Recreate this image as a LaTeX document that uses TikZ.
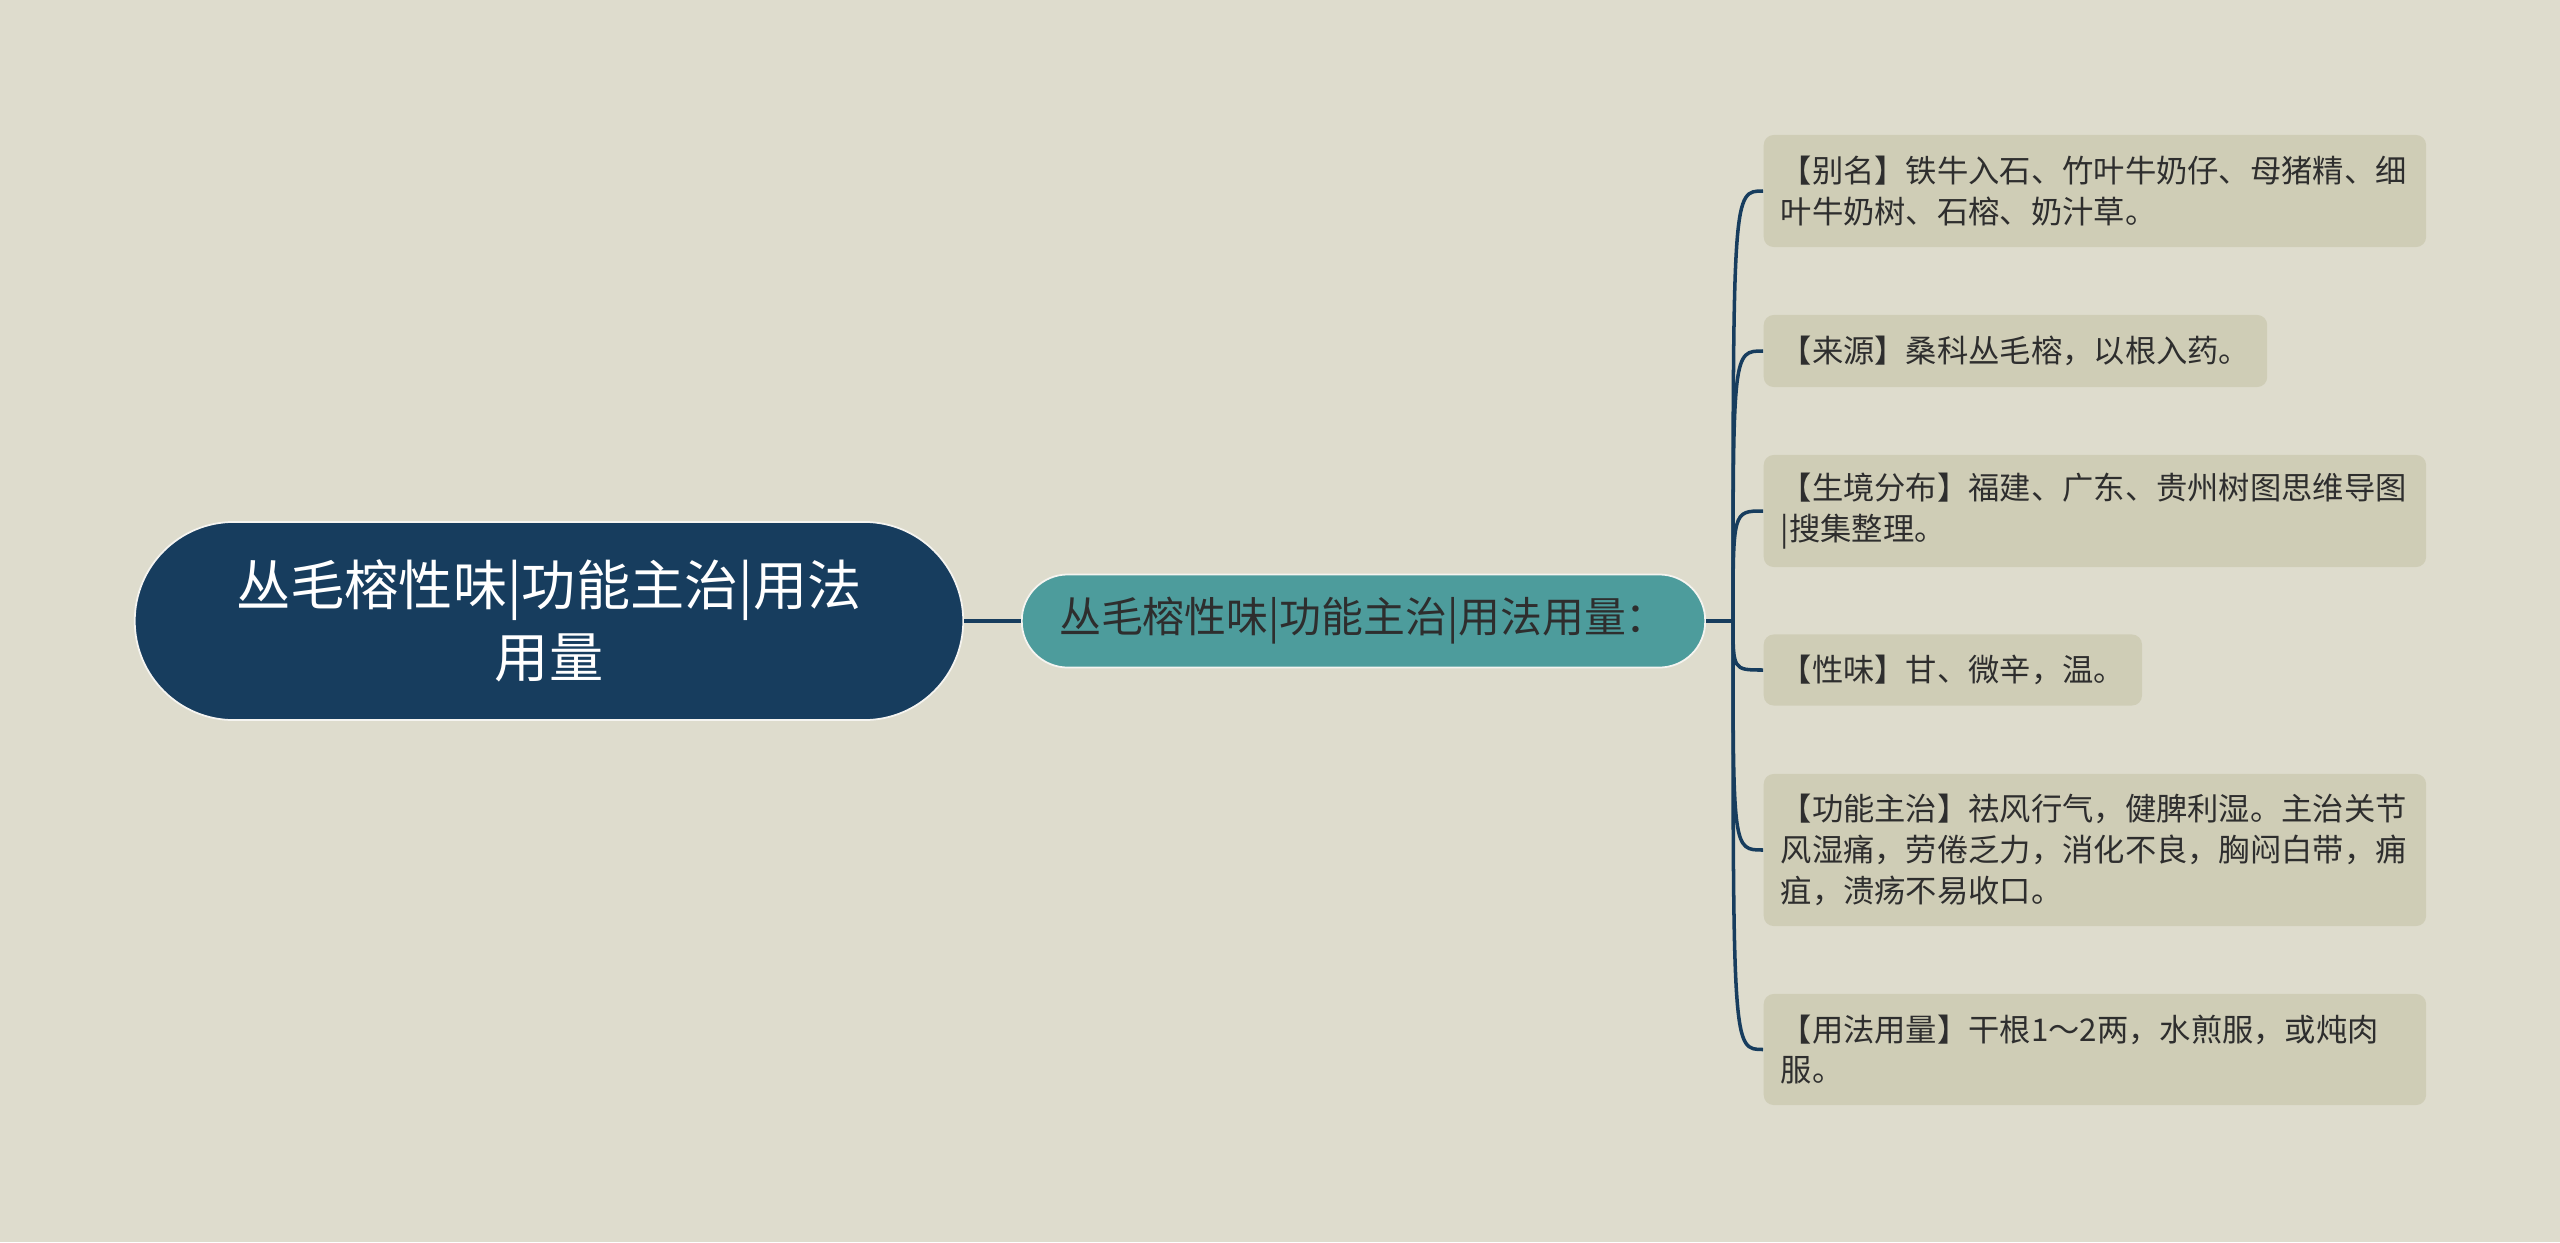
\documentclass[tikz,border=0pt]{standalone}
\usepackage{fontspec}
\setmainfont{Noto Sans CJK SC}
\usepackage{xcolor}

\definecolor{bgcol}{HTML}{DEDCCD}
\definecolor{rootcol}{HTML}{173D5E}
\definecolor{midcol}{HTML}{4D9C9C}
\definecolor{leafcol}{HTML}{CFCDB6}
\definecolor{inkcol}{HTML}{2E2E2E}

\begin{document}
\begin{tikzpicture}[x=0.01cm,y=-0.01cm,
  rootbox/.style={fill=rootcol,draw=white!70!bgcol,line width=0.5pt,text=white,align=center,
    minimum width=8.28cm,minimum height=1.98cm,rounded corners=0.99cm,
    font=\fontsize{15.4pt}{20.5pt}\selectfont},
  midbox/.style={fill=midcol,draw=white!70!bgcol,line width=0.5pt,text=inkcol,
    minimum width=6.83cm,minimum height=0.93cm,rounded corners=0.46cm,
    font=\fontsize{11.9pt}{14pt}\selectfont},
  leaf/.style={fill=leafcol,text=inkcol,align=left,anchor=west,rounded corners=0.1cm,
    inner xsep=0.17cm,inner ysep=0pt,font=\fontsize{8.9pt}{11.65pt}\selectfont},
  leafwide/.style={leaf,text width=6.28cm},
  link/.style={draw=rootcol,line width=1.2pt},
  twig/.style={draw=rootcol,line width=1pt}]
\fill[bgcol] (0,0) rectangle (2560,1242);
\useasboundingbox (0,0) rectangle (2560,1242);

\node[rootbox] (root) at (549,621) {丛毛榕性味|功能主治|用法\\用量};
\node[midbox] (mid) at (1363.5,621) {丛毛榕性味|功能主治|用法用量：};
\coordinate (J) at (1733,621);

\node[leafwide,minimum height=1.12cm] (l1) at (1763,191) {【别名】铁牛入石、竹叶牛奶仔、母猪精、细\\叶牛奶树、石榕、奶汁草。};
\node[leaf,minimum height=0.72cm] (l2) at (1763,351) {【来源】桑科丛毛榕，以根入药。};
\node[leafwide,minimum height=1.12cm] (l3) at (1763,511) {【生境分布】福建、广东、贵州树图思维导图\\|搜集整理。};
\node[leaf,minimum height=0.71cm] (l4) at (1763,670) {【性味】甘、微辛，温。};
\node[leafwide,minimum height=1.52cm] (l5) at (1763,850) {【功能主治】祛风行气，健脾利湿。主治关节\\风湿痛，劳倦乏力，消化不良，胸闷白带，痈\\疽，溃疡不易收口。};
\node[leafwide,minimum height=1.11cm] (l6) at (1763,1049.5) {【用法用量】干根1～2两，水煎服，或炖肉\\服。};

\draw[link] (root) -- (mid);
\draw[link] (mid) -- (J);
\foreach \n in {l1,l2,l3,l4,l5,l6}
  \draw[twig] (J) .. controls (J |- \n.west) .. (\n.west);
\end{tikzpicture}
\end{document}
